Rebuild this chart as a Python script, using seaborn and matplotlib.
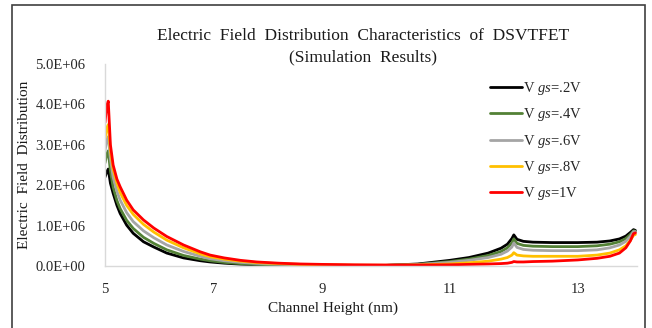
import numpy as np
import pandas as pd
import matplotlib
matplotlib.use("Agg")
import matplotlib.pyplot as plt
from matplotlib.patches import Rectangle
import seaborn as sns

# ---------------- data (field values in units of 1e6) ----------------
channel_height = [5.00, 5.03, 5.06, 5.10, 5.15, 5.22, 5.28, 5.40, 5.52, 5.71,
                  5.90, 6.14, 6.45, 6.76, 6.94, 7.20, 7.50, 7.80, 8.20, 8.60,
                  9.00, 9.50, 10.00, 10.50, 11.00, 11.30, 11.60, 11.80, 11.90, 11.97,
                  12.00, 12.05, 12.15, 12.30, 12.60, 13.00, 13.30, 13.50, 13.65, 13.75,
                  13.82, 13.87, 13.90]

vgs_02 = [2.20, 2.32, 2.40, 2.05, 1.80, 1.50, 1.30, 1.01, 0.81, 0.60,
          0.47, 0.32, 0.20, 0.13, 0.10, 0.07, 0.045, 0.03, 0.02, 0.012,
          0.010, 0.008, 0.015, 0.05, 0.14, 0.21, 0.32, 0.44, 0.54, 0.68,
          0.77, 0.66, 0.61, 0.59, 0.58, 0.58, 0.59, 0.62, 0.67, 0.74,
          0.83, 0.90, 0.88]

vgs_04 = [2.55, 2.75, 2.85, 2.35, 1.95, 1.62, 1.42, 1.13, 0.93, 0.71,
          0.56, 0.40, 0.26, 0.17, 0.13, 0.09, 0.06, 0.04, 0.025, 0.018,
          0.012, 0.010, 0.014, 0.04, 0.11, 0.17, 0.26, 0.36, 0.45, 0.57,
          0.67, 0.56, 0.51, 0.49, 0.48, 0.48, 0.50, 0.54, 0.60, 0.68,
          0.78, 0.87, 0.86]

vgs_06 = [2.85, 3.10, 3.20, 2.65, 2.20, 1.85, 1.63, 1.32, 1.10, 0.87,
          0.70, 0.52, 0.36, 0.24, 0.18, 0.13, 0.09, 0.065, 0.045, 0.03,
          0.02, 0.015, 0.015, 0.035, 0.09, 0.14, 0.21, 0.29, 0.37, 0.47,
          0.57, 0.46, 0.41, 0.39, 0.38, 0.38, 0.40, 0.45, 0.52, 0.61,
          0.73, 0.85, 0.85]

vgs_08 = [3.15, 3.40, 3.50, 2.85, 2.40, 2.05, 1.82, 1.50, 1.28, 1.03,
          0.84, 0.64, 0.45, 0.30, 0.23, 0.17, 0.12, 0.085, 0.06, 0.04,
          0.03, 0.02, 0.018, 0.025, 0.05, 0.08, 0.12, 0.17, 0.21, 0.27,
          0.33, 0.27, 0.25, 0.24, 0.24, 0.24, 0.27, 0.32, 0.40, 0.50,
          0.63, 0.76, 0.78]

vgs_10 = [3.55, 3.95, 4.08, 3.00, 2.50, 2.15, 1.96, 1.63, 1.39, 1.14,
          0.94, 0.73, 0.52, 0.35, 0.27, 0.20, 0.14, 0.10, 0.07, 0.05,
          0.04, 0.03, 0.025, 0.025, 0.03, 0.04, 0.05, 0.06, 0.07, 0.09,
          0.11, 0.10, 0.10, 0.11, 0.12, 0.15, 0.19, 0.24, 0.32, 0.45,
          0.62, 0.80, 0.82]

series_labels = ["V gs=.2V", "V gs=.4V", "V gs=.6V", "V gs=.8V", "V gs=1V"]
legend_labels = [r"V $\mathit{gs}$=.2V", r"V $\mathit{gs}$=.4V", r"V $\mathit{gs}$=.6V",
                 r"V $\mathit{gs}$=.8V", r"V $\mathit{gs}$=1V"]
colors = ["#000000", "#538135", "#A5A5A5", "#FFC000", "#FF0000"]
y_ticks = [0, 1e6, 2e6, 3e6, 4e6, 5e6]
x_ticks = [5, 7, 9, 11, 13]

frames = []
for lab, vals in zip(series_labels, [vgs_02, vgs_04, vgs_06, vgs_08, vgs_10]):
    frames.append(pd.DataFrame({"x": channel_height,
                                "E": np.array(vals) * 1e6,
                                "series": lab}))
df = pd.concat(frames, ignore_index=True)

# ---------------- style ----------------
sns.set_theme(style="white")
plt.rcParams["font.family"] = ["Liberation Serif", "DejaVu Serif"]
plt.rcParams["mathtext.fontset"] = "custom"
plt.rcParams["mathtext.rm"] = "Liberation Serif"
plt.rcParams["mathtext.it"] = "Liberation Serif:italic"

fig = plt.figure(figsize=(6.52, 3.28), dpi=100)
fig.patch.set_facecolor("white")
ax = fig.add_axes([105 / 652, 1 - 266 / 328, 531.7 / 652, 202 / 328])

# Excel category-like axis: spacing differs left/right of 9
def _fwd(x):
    x = np.asarray(x, dtype=float)
    return np.where(x < 9, (x - 9) * 54.2, (x - 9) * 64.0)

def _inv(y):
    y = np.asarray(y, dtype=float)
    return np.where(y < 0, y / 54.2 + 9, y / 64.0 + 9)

ax.set_xscale("function", functions=(_fwd, _inv))

sns.lineplot(data=df, x="x", y="E", hue="series", hue_order=series_labels,
             palette=colors, linewidth=2.0, legend=False, ax=ax, sort=False)

ax.set_xlim(5, 13.92)
ax.set_ylim(0, 5e6)
ax.set_yticks(y_ticks)
ax.set_yticklabels(["{:.1E}".format(v) for v in y_ticks])
ax.set_xticks(x_ticks)
ax.set_xticklabels([str(v) for v in x_ticks])
ax.minorticks_off()
ax.tick_params(axis="both", length=0, labelsize=10.5, colors="#262626")
ax.tick_params(axis="y", pad=14)
ax.tick_params(axis="x", pad=12)
ax.set_xlabel("")
ax.set_ylabel("")
for s in ["top", "right"]:
    ax.spines[s].set_visible(False)
for s in ["left", "bottom"]:
    ax.spines[s].set_color("#D9D9D9")
    ax.spines[s].set_linewidth(1.0)
ax.grid(False)

handles = ax.get_lines()[:5]
leg = ax.legend(handles, legend_labels, loc="upper left",
                bbox_to_anchor=(490 / 652, 1 - 80 / 328), bbox_transform=fig.transFigure,
                frameon=False, borderpad=0, borderaxespad=0, handlelength=2.2,
                handletextpad=0.05, labelspacing=0.64, fontsize=10.5)

fig.text(363 / 652, 1 - 36 / 328,
         "Electric  Field  Distribution  Characteristics  of  DSVTFET",
         ha="center", va="center", fontsize=12.5, color="#1a1a1a")
fig.text(363 / 652, 1 - 57 / 328, "(Simulation  Results)",
         ha="center", va="center", fontsize=12.5, color="#1a1a1a")
fig.text(333 / 652, 1 - 308 / 328, "Channel Height (nm)",
         ha="center", va="center", fontsize=11, color="#1a1a1a")
fig.text(25 / 652, 1 - 165 / 328, "Electric  Field  Distribution",
         ha="center", va="center", rotation=90, fontsize=11, color="#1a1a1a")

fig.add_artist(Rectangle((12 / 652, -0.05), (645 - 12) / 652, 1.05 - 5 / 328,
                         transform=fig.transFigure, fill=False,
                         edgecolor="#404040", linewidth=1.2))

fig.savefig("out.png", dpi=100)
